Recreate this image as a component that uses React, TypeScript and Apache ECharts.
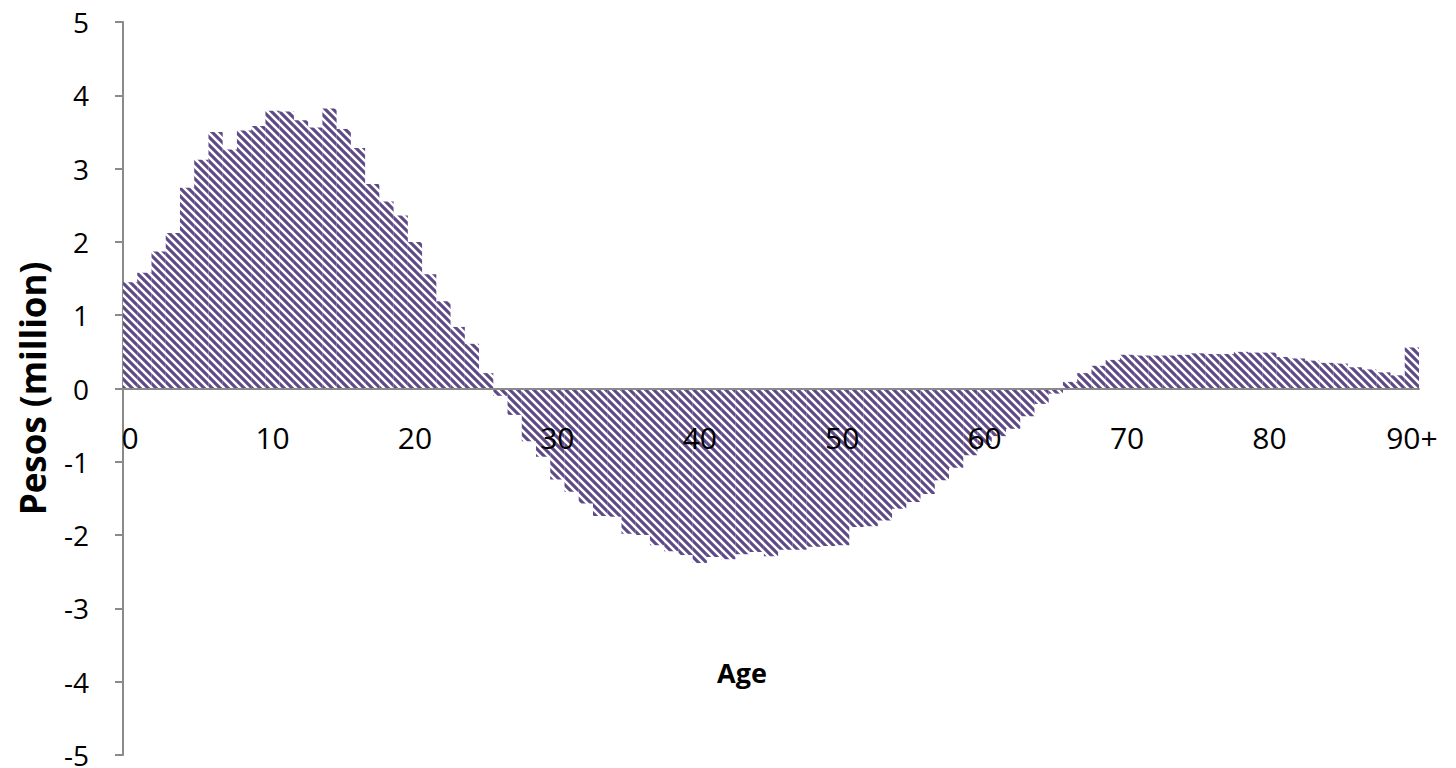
import React, { useEffect, useRef } from 'react';
import * as echarts from 'echarts';

const ageCategories: string[] = [];
for (let i = 0; i < 90; i++) ageCategories.push(String(i));
ageCategories.push('90+');

const pesosMillion = [
  1.45, 1.58, 1.87, 2.12, 2.74, 3.12, 3.5, 3.26, 3.52, 3.58,
  3.79, 3.78, 3.66, 3.56, 3.82, 3.54, 3.28, 2.79, 2.55, 2.36,
  2.0, 1.56, 1.19, 0.84, 0.61, 0.21, -0.1, -0.36, -0.72, -0.93,
  -1.24, -1.41, -1.57, -1.74, -1.75, -1.98, -2.0, -2.14, -2.22, -2.27,
  -2.38, -2.3, -2.33, -2.26, -2.23, -2.29, -2.2, -2.2, -2.16, -2.15,
  -2.14, -1.89, -1.88, -1.8, -1.64, -1.55, -1.44, -1.25, -1.08, -0.91,
  -0.77, -0.65, -0.55, -0.38, -0.21, -0.07, 0.09, 0.21, 0.31, 0.39,
  0.46, 0.45, 0.45, 0.45, 0.46, 0.48, 0.47, 0.47, 0.5, 0.49,
  0.49, 0.43, 0.41, 0.38, 0.35, 0.34, 0.29, 0.26, 0.22, 0.18,
  0.56,
];

const yMin = -5;
const yMax = 5;
const yStep = 1;

const FONT = '"Open Sans", "Noto Sans", sans-serif';
const AXIS_GREY = '#8a8a8a';
const STRIPE = '#5e4a87';

const GRID_TOP = 22;
const GRID_BOTTOM = 13;
const CHART_H = 768;

function makeStripePattern(size: number, color: string) {
  const c = document.createElement('canvas');
  c.width = size;
  c.height = size;
  const ctx = c.getContext('2d')!;
  ctx.fillStyle = '#ffffff';
  ctx.fillRect(0, 0, size, size);
  ctx.strokeStyle = color;
  ctx.lineWidth = size / (2 * Math.SQRT2) * 1.1;
  ctx.lineCap = 'square';
  for (let k = -1; k <= 1; k++) {
    ctx.beginPath();
    ctx.moveTo(k * size - size, -size);
    ctx.lineTo(k * size + 2 * size, 2 * size);
    ctx.stroke();
  }
  return {
    image: c.toDataURL(),
    repeat: 'repeat',
    imageWidth: size,
    imageHeight: size,
  };
}

export default function App() {
  const ref = useRef<HTMLDivElement>(null);
  useEffect(() => {
    if (!ref.current) return;
    const chart = echarts.init(ref.current, null, { renderer: 'svg' });
    const pattern = makeStripePattern(8, STRIPE);
    const gridH = CHART_H - GRID_TOP - GRID_BOTTOM;
    const zeroOffset = -gridH * (0 - yMin) / (yMax - yMin);
    chart.setOption({
      animation: false,
      backgroundColor: '#ffffff',
      grid: {
        left: 123,
        right: 37,
        top: GRID_TOP,
        bottom: GRID_BOTTOM,
        containLabel: false,
        outerBoundsMode: 'none',
      },
      xAxis: {
        type: 'category',
        data: ageCategories,
        boundaryGap: true,
        position: 'bottom',
        offset: zeroOffset,
        z: 10,
        axisLine: { onZero: false, lineStyle: { color: AXIS_GREY, width: 2 } },
        axisTick: { interval: 4, length: 9, lineStyle: { color: AXIS_GREY, width: 2 } },
        axisLabel: {
          interval: 9,
          margin: 34,
          fontSize: 30,
          fontFamily: FONT,
          color: '#000',
        },
        splitLine: { show: false },
      },
      yAxis: {
        type: 'value',
        min: yMin,
        max: yMax,
        interval: yStep,
        axisLine: { show: true, lineStyle: { color: AXIS_GREY, width: 2 } },
        axisTick: { show: true, length: 8, lineStyle: { color: AXIS_GREY, width: 2 } },
        axisLabel: { margin: 34, fontSize: 28, lineHeight: 22, fontFamily: FONT, color: '#000' },
        splitLine: { show: false },
        name: 'Pesos (million)',
        nameLocation: 'middle',
        nameGap: 73,
        nameTextStyle: { fontSize: 35, fontWeight: 'bold', fontFamily: FONT, color: '#000' },
      },
      graphic: [
        {
          type: 'text',
          x: 742,
          y: 672,
          style: {
            text: 'Age',
            fontSize: 27,
            fontWeight: 'bold',
            fontFamily: FONT,
            fill: '#000',
            align: 'center',
            verticalAlign: 'middle',
          },
        },
      ],
      series: [
        {
          type: 'bar',
          data: pesosMillion,
          barCategoryGap: '0%',
          silent: true,
          z: 2,
          itemStyle: { color: pattern },
        },
      ],
    });
    return () => chart.dispose();
  }, []);
  return (
    <div
      ref={ref}
      style={{ position: 'fixed', left: 0, top: 0, width: 1456, height: 768 }}
    />
  );
}
